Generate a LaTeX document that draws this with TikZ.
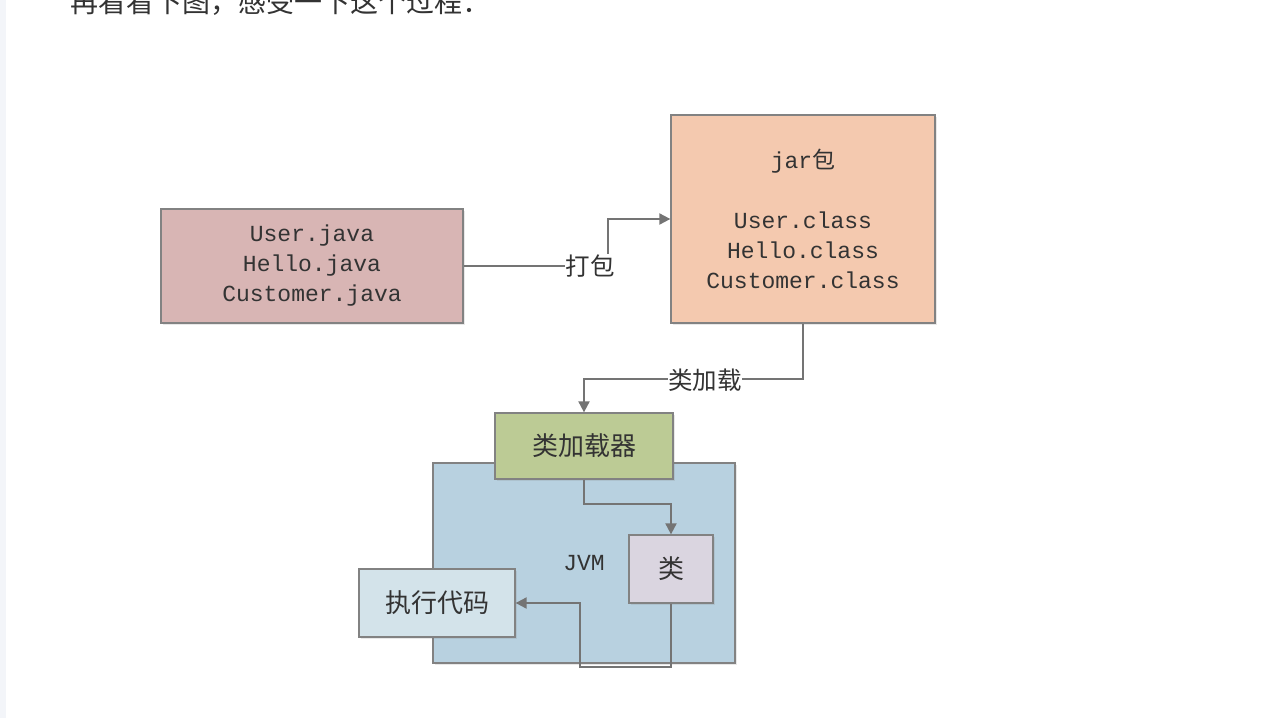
\documentclass[tikz,border=0pt]{standalone}
\usepackage{fontspec}
\setmonofont{Liberation Mono}
\newfontfamily\cjk{Noto Sans CJK SC}
\usetikzlibrary{arrows.meta,shadows,calc}
\definecolor{txt}{HTML}{333333}
\definecolor{linec}{HTML}{747474}
\definecolor{srcfill}{HTML}{D8B5B4}
\definecolor{jarfill}{HTML}{F4C9AF}
\definecolor{ldfill}{HTML}{BCCB95}
\definecolor{jvmfill}{HTML}{B8D1E0}
\definecolor{clsfill}{HTML}{DAD5E0}
\definecolor{exefill}{HTML}{D3E3EA}
\definecolor{stripc}{HTML}{F3F5F9}
\tikzset{
  box/.style={draw=linec!90, line width=1.3pt, inner sep=0pt, align=center, text=txt,
    drop shadow={opacity=0.18, shadow xshift=1.5pt, shadow yshift=-1.5pt}},
  conn/.style={draw=linec, line width=2pt},
  arr/.style={conn, -{Triangle[length=11pt,width=11pt]}},
  lbl/.style={fill=white, inner sep=0.5pt, text=txt, font=\cjk\fontsize{24.5}{28}\selectfont},
  monotext/.style={font=\ttfamily\fontsize{23}{30}\selectfont},
  cjktext/.style={font=\cjk\fontsize{26}{30}\selectfont}
}
\begin{document}
\begin{tikzpicture}[x=1pt,y=-1pt]
\useasboundingbox[fill=white] (0,0) rectangle (1280,718);
\fill[stripc] (0,0) rectangle (6,718);
\begin{scope}
\clip (0,0) rectangle (1280,718);
\node[anchor=base west, inner sep=0pt, text=txt, font=\cjk\fontsize{28}{32}\selectfont] (intro) at (70,12) {再看看下图，感受一下这个过程：};
\end{scope}
% boxes
\node[box, fill=srcfill, minimum width=302, minimum height=114, monotext] (src) at (312,266)
  {User.java\\Hello.java\\Customer.java};
\node[box, fill=jarfill, minimum width=264, minimum height=208, monotext] (jar) at (803,219)
  {jar{\cjk 包}\\\mbox{}\\User.class\\Hello.class\\Customer.class};
\node[box, fill=jvmfill, minimum width=302, minimum height=200, monotext] (jvm) at (584,563) {JVM};
\node[box, fill=ldfill, minimum width=178, minimum height=66, cjktext] (ld) at (584,446) {类加载器};
\node[box, fill=exefill, minimum width=156, minimum height=68, cjktext] (exe) at (437,603) {执行代码};
\node[box, fill=clsfill, minimum width=84, minimum height=68, cjktext] (cls) at (671,569) {类};
% connectors
\draw[arr] (src.east) -- ++(144,0) |- (jar.west);
\node[lbl] (pk) at (590,266) {打包};
\draw[arr] (jar.south) |- ($(ld.north)+(0,-33)$) -- (ld.north);
\node[lbl] (cl) at (705,380) {类加载};
\draw[arr] (ld.south) -- ++(0,24) -| (cls.north);
\draw[arr] (cls.south) -- ++(0,63) -| ($(exe.east)+(64,0)$) -- (exe.east);
\end{tikzpicture}
\end{document}
